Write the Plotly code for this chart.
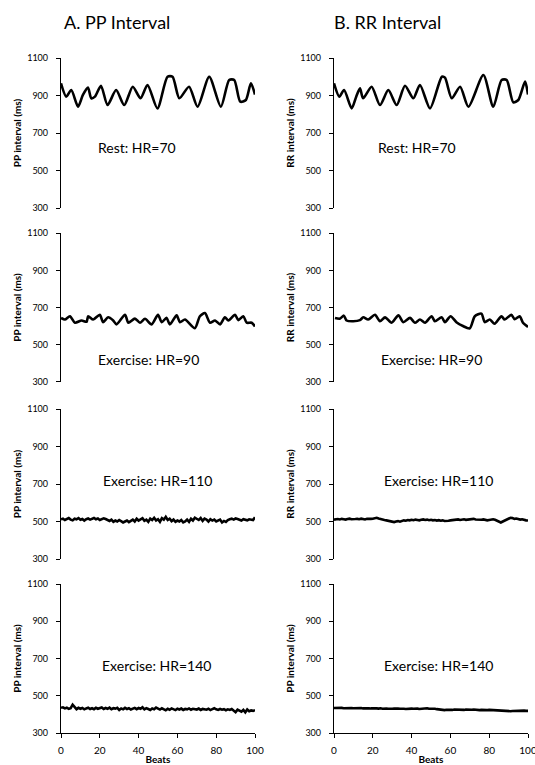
import plotly.graph_objects as go

# ---------------- data ----------------
beats_ticks = [0, 20, 40, 60, 80, 100]
y_ticks = [300, 500, 700, 900, 1100]

# Rest (HR=70): key points (beat, ms)
pp_rest_x = [0, 2.7, 5.3, 8.8, 11.3, 13.9, 15.6, 17.5, 20.6, 24, 28.4, 32.6, 37, 41, 44.6,
             49.7, 54.9, 57.5, 61, 66, 70.4, 76.4, 82.4, 86.7, 89.3, 92.4, 95.3, 97.9, 100]
pp_rest_y = [965, 894, 929, 840, 903, 942, 885, 894, 952, 849, 929, 849, 947, 885, 956,
             831, 1000, 1000, 885, 947, 840, 1000, 840, 983, 983, 867, 876, 965, 905]
rr_rest_x = [0, 2.75, 5.2, 9.1, 11.5, 13.4, 15, 19.4, 23.7, 28, 32.3, 36.6, 40.9, 44.3,
             49.5, 55.6, 57.2, 60.7, 65, 69.3, 77, 82.1, 86.4, 89, 92.4, 95, 98.5, 100]
rr_rest_y = [965, 894, 929, 831, 895, 938, 885, 947, 849, 929, 849, 952, 885, 956,
             831, 1000, 995, 885, 947, 840, 1009, 840, 983, 983, 864, 876, 974, 905]

# Exercise HR=90
pp_90_x = [0, 2, 4.6, 7.2, 10.6, 13.2, 14, 16.6, 20, 21.7, 24.3, 26.9, 28.6, 33, 34.7, 38.1,
           40.7, 43.3, 46.7, 50, 51.9, 54.4, 56.1, 59.6, 61.3, 63.9, 69, 71.6, 74.2, 76.8,
           79.4, 82, 84.5, 86.3, 89.7, 91.4, 94, 95.7, 98.3, 100]
pp_90_y = [644, 635, 653, 618, 630, 623, 653, 635, 661, 621, 647, 630, 609, 661, 618, 640,
           618, 639, 609, 661, 621, 644, 609, 658, 621, 635, 588, 653, 670, 618,
           630, 609, 647, 630, 661, 632, 653, 618, 618, 598]
rr_90_x = [0.5, 3, 5.1, 6.5, 9.9, 13.4, 15.1, 17.6, 21.1, 23.7, 26.3, 29.7, 33.2, 35.7, 39.2,
           41.7, 44.3, 46.9, 50.3, 52, 55.5, 57.2, 60.1, 63.1, 66.5, 70, 72.6, 76, 77.7, 80.3,
           82.8, 86.3, 88, 91.4, 93.1, 95.7, 97.4, 100]
rr_90_y = [644, 640, 656, 630, 626, 632, 647, 635, 661, 626, 647, 618, 658, 621, 644,
           618, 635, 618, 653, 626, 647, 621, 653, 621, 600, 588, 653, 667, 621, 635,
           612, 653, 635, 661, 637, 653, 618, 595]

# Exercise HR=110 (one value per beat, 0..100)
pp_110 = [512, 515, 508, 514, 518, 510, 506, 515, 512, 518,
          509, 513, 505, 512, 516, 510, 514, 519, 512, 516,
          508, 512, 517, 513, 508, 503, 510, 498, 505, 500,
          508, 502, 495, 500, 505, 497, 502, 510, 500, 515,
          505, 512, 518, 504, 510, 498, 515, 508, 520, 505,
          512, 498, 518, 510, 525, 508, 515, 502, 510, 498,
          505, 500, 508, 495, 500, 510, 498, 515, 505, 520,
          512, 508, 518, 503, 515, 510, 500, 512, 505, 510,
          500, 506, 510, 495, 503, 498, 508, 512, 515, 510,
          516, 513, 510, 505, 512, 508, 506, 512, 510, 508,
          522]
rr_110 = [510, 512, 513, 511, 514, 512, 510, 513, 515, 512,
          511, 513, 514, 512, 515, 513, 511, 514, 516, 514,
          515, 518, 520, 516, 512, 510, 508, 506, 503, 500,
          498, 497, 500, 502, 499, 503, 506, 504, 508, 506,
          509, 507, 510, 508, 506, 509, 511, 508, 510, 507,
          509, 506, 508, 505, 507, 504, 506, 503, 502, 504,
          506, 508, 507, 509, 511, 508, 510, 512, 509, 511,
          510, 512, 514, 511, 509, 507, 509, 511, 508, 506,
          508, 510, 512, 509, 505, 498, 495, 500, 505, 510,
          515, 520, 518, 514, 516, 512, 510, 512, 508, 506,
          505]

# Exercise HR=140
pp_140 = [435, 438, 432, 436, 430, 433, 452, 440, 428, 435,
          430, 434, 427, 432, 436, 429, 433, 428, 435, 430,
          432, 437, 429, 434, 430, 436, 428, 433, 431, 435,
          424, 432, 427, 435, 429, 433, 426, 431, 435, 428,
          434, 430, 438, 427, 433, 429, 424, 432, 428, 437,
          430, 426, 433, 428, 422, 430, 425, 432, 427, 423,
          430, 426, 431, 424, 429, 427, 432, 425, 430, 428,
          426, 431, 424, 429, 427, 425, 430, 423, 428, 433,
          427, 424, 429, 425, 428, 422, 427, 424, 429, 421,
          412, 425, 418, 414, 424, 411, 426, 417, 421, 419,
          423]
rr_140 = [434, 435, 433, 434, 435, 433, 434, 435, 433, 434,
          433, 434, 432, 433, 434, 432, 433, 431, 433, 432,
          433, 434, 432, 431, 433, 430, 432, 431, 430, 432,
          430, 431, 429, 431, 430, 432, 430, 429, 431, 432,
          431, 430, 432, 431, 429, 430, 432, 431, 433, 430,
          431, 429, 430, 428, 426, 425, 424, 423, 425, 424,
          425, 424, 426, 425, 424, 426, 425, 424, 426, 425,
          424, 425, 426, 424, 425, 423, 424, 425, 424, 423,
          424, 423, 422, 421, 420, 419, 420, 419, 418, 419,
          418, 417, 418, 419, 418, 419, 418, 419, 420, 419,
          419]

labels_text = ["Rest: HR=70", "Exercise: HR=90", "Exercise: HR=110", "Exercise: HR=140"]
label_x_left = [39, 45, 49.5, 49]
label_x_right = [43, 50.5, 54, 54]
label_y = [625, 418, 720, 660]
left_titles = ["PP interval (ms)"] * 4
right_titles = ["RR interval (ms)", "RR interval (ms)", "RR interval (ms)", "PP interval (ms)"]

# ---------------- figure ----------------
W, H = 535, 765
FONT = "Lato"
fig = go.Figure()

row_px = [(58, 208), (233.3, 381.7), (409, 559), (584, 733)]
col_px = [(61, 255), (334, 528)]

series = [
    [(pp_rest_x, pp_rest_y), (rr_rest_x, rr_rest_y)],
    [(pp_90_x, pp_90_y), (rr_90_x, rr_90_y)],
    [(list(range(len(pp_110))), pp_110), (list(range(len(rr_110))), rr_110)],
    [(list(range(len(pp_140))), pp_140), (list(range(len(rr_140))), rr_140)],
]

layout = dict(
    width=W, height=H, margin=dict(l=0, r=0, t=0, b=0, autoexpand=False),
    paper_bgcolor="white", plot_bgcolor="white", showlegend=False,
    font=dict(family=FONT, color="black", size=10),
)

annotations = []
idx = 0
for r in range(4):
    for c in range(2):
        idx += 1
        xa = "xaxis" if idx == 1 else f"xaxis{idx}"
        ya = "yaxis" if idx == 1 else f"yaxis{idx}"
        xr = "x" if idx == 1 else f"x{idx}"
        yr = "y" if idx == 1 else f"y{idx}"
        xs, ys = series[r][c]
        smooth = r < 2
        fig.add_trace(go.Scatter(x=xs, y=ys, mode="lines", xaxis=xr, yaxis=yr,
                                 line=dict(color="black", width=2.6,
                                           shape="spline" if smooth else "linear",
                                           smoothing=0.7 if smooth else None),
                                 hoverinfo="skip"))
        y0, y1 = row_px[r]
        x0, x1 = col_px[c]
        bottom = (r == 3)
        layout[xa] = dict(
            domain=[x0 / W, x1 / W], anchor=yr, range=[0, 100], automargin=False,
            showgrid=False, zeroline=False,
            showline=bottom, linecolor="black", linewidth=1.3,
            ticks="outside" if bottom else "", ticklen=4, tickcolor="black", tickwidth=1.3,
            tickvals=beats_ticks, showticklabels=bottom, ticklabelstandoff=4,
            ticklabeloverflow="allow",
            tickfont=dict(family=FONT, size=10),
            title=dict(text="<b>Beats</b>", font=dict(family=FONT, size=10), standoff=0) if bottom else None,
        )
        ytitle = left_titles[r] if c == 0 else right_titles[r]
        layout[ya] = dict(
            domain=[1 - y1 / H, 1 - y0 / H], anchor=xr, range=[300, 1100], automargin=False,
            showgrid=False, zeroline=False,
            showline=True, linecolor="black", linewidth=1.3,
            ticks="outside", ticklen=4, tickcolor="black", tickwidth=1.3,
            tickvals=y_ticks, tickfont=dict(family=FONT, size=9), ticklabelstandoff=6,
            title=dict(text=f"<b>{ytitle}</b>", font=dict(family=FONT, size=10), standoff=3),
        )
        lx = label_x_left[r] if c == 0 else label_x_right[r]
        annotations.append(dict(x=lx, y=label_y[r], xref=xr, yref=yr, text=labels_text[r],
                                xanchor="center", yanchor="middle",
                                showarrow=False, font=dict(family=FONT, size=14, color="black")))

annotations.append(dict(x=117 / W, y=1 - 22 / H, xref="paper", yref="paper", text="A. PP Interval",
                        xanchor="center", yanchor="middle",
                        showarrow=False, font=dict(family=FONT, size=18, color="black")))
annotations.append(dict(x=387 / W, y=1 - 22 / H, xref="paper", yref="paper", text="B. RR Interval",
                        xanchor="center", yanchor="middle",
                        showarrow=False, font=dict(family=FONT, size=18, color="black")))
layout["annotations"] = annotations

fig.update_layout(**layout)
fig.write_html("out.html", config={"displayModeBar": False},
               post_script="document.body.style.margin='0';document.body.style.overflow='hidden';")
